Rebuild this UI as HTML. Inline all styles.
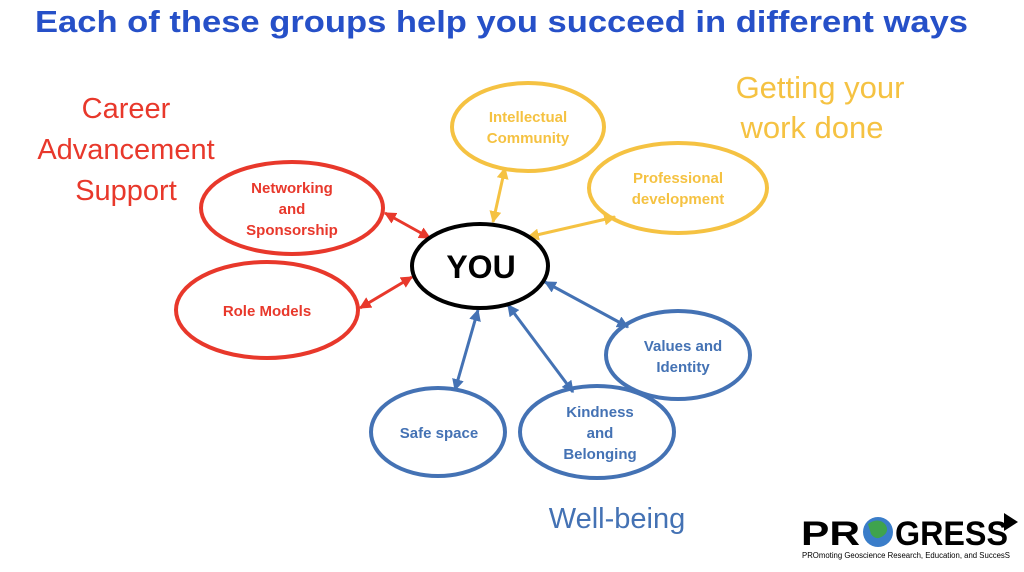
<!DOCTYPE html>
<html><head><style>
body{margin:0;width:1024px;height:567px;background:#fff;overflow:hidden;font-family:"Liberation Sans",sans-serif}
</style></head><body>
<svg width="1024" height="567" xmlns="http://www.w3.org/2000/svg" font-family="Liberation Sans, sans-serif">
<defs>
<marker id="r" viewBox="0 0 10 10" refX="9" refY="5" markerWidth="4" markerHeight="4" orient="auto-start-reverse"><path d="M0,0L10,5L0,10z" fill="#e8382b"/></marker>
<marker id="y" viewBox="0 0 10 10" refX="9" refY="5" markerWidth="4" markerHeight="4" orient="auto-start-reverse"><path d="M0,0L10,5L0,10z" fill="#f5c242"/></marker>
<marker id="b" viewBox="0 0 10 10" refX="9" refY="5" markerWidth="4" markerHeight="4" orient="auto-start-reverse"><path d="M0,0L10,5L0,10z" fill="#4472b4"/></marker>
</defs>
<text x="35" y="32" font-size="31" font-weight="bold" fill="#2650c8" textLength="933" lengthAdjust="spacingAndGlyphs">Each of these groups help you succeed in different ways</text>
<g font-size="29" fill="#e8382b" text-anchor="middle">
<text x="126" y="118">Career</text><text x="126" y="159">Advancement</text><text x="126" y="200">Support</text></g>
<g font-size="31" fill="#f5c242" text-anchor="middle">
<text x="820" y="98">Getting your</text><text x="812" y="138">work done</text></g>
<text x="617" y="528" font-size="29" fill="#4472b4" text-anchor="middle">Well-being</text>
<g fill="none" stroke-width="3">
<line x1="385" y1="213" x2="430" y2="238" stroke="#e8382b" marker-start="url(#r)" marker-end="url(#r)"/>
<line x1="360" y1="308" x2="412" y2="277" stroke="#e8382b" marker-start="url(#r)" marker-end="url(#r)"/>
<line x1="493" y1="222" x2="505" y2="168" stroke="#f5c242" marker-start="url(#y)" marker-end="url(#y)"/>
<line x1="528" y1="237" x2="615" y2="217" stroke="#f5c242" marker-start="url(#y)" marker-end="url(#y)"/>
<line x1="545" y1="282" x2="628" y2="327" stroke="#4472b4" marker-start="url(#b)" marker-end="url(#b)"/>
<line x1="478" y1="310" x2="455" y2="390" stroke="#4472b4" marker-start="url(#b)" marker-end="url(#b)"/>
<line x1="508" y1="305" x2="573" y2="392" stroke="#4472b4" marker-start="url(#b)" marker-end="url(#b)"/>
</g>
<g fill="none" stroke-width="4">
<ellipse cx="480" cy="266" rx="68" ry="42" stroke="#000"/>
<ellipse cx="292" cy="208" rx="91" ry="46" stroke="#e8382b"/>
<ellipse cx="267" cy="310" rx="91" ry="48" stroke="#e8382b"/>
<ellipse cx="528" cy="127" rx="76" ry="44" stroke="#f5c242"/>
<ellipse cx="678" cy="188" rx="89" ry="45" stroke="#f5c242"/>
<ellipse cx="678" cy="355" rx="72" ry="44" stroke="#4472b4"/>
<ellipse cx="597" cy="432" rx="77" ry="46" stroke="#4472b4"/>
<ellipse cx="438" cy="432" rx="67" ry="44" stroke="#4472b4"/>
</g>
<text x="481" y="278" text-anchor="middle" font-size="32" font-weight="bold">YOU</text>
<g font-size="15" font-weight="bold" text-anchor="middle">
<g fill="#e8382b"><text x="292" y="193">Networking</text><text x="292" y="214">and</text><text x="292" y="235">Sponsorship</text><text x="267" y="316">Role Models</text></g>
<g fill="#f5c242"><text x="528" y="122">Intellectual</text><text x="528" y="143">Community</text><text x="678" y="183">Professional</text><text x="678" y="204">development</text></g>
<g fill="#4472b4"><text x="683" y="351">Values and</text><text x="683" y="372">Identity</text><text x="600" y="417">Kindness</text><text x="600" y="438">and</text><text x="600" y="459">Belonging</text><text x="439" y="438">Safe space</text></g>
</g>
<g>
<text x="801" y="545" font-size="34" font-weight="bold" fill="#000" textLength="59" lengthAdjust="spacingAndGlyphs">PR</text>
<circle cx="878" cy="532" r="15" fill="#3a7dc9"/>
<path d="M868,524 q10,-7 17,0 q5,7 -2,12 q-7,5 -12,-2z" fill="#3fa34d"/>
<text x="895" y="545" font-size="34" font-weight="bold" fill="#000" textLength="113" lengthAdjust="spacingAndGlyphs">GRESS</text>
<path d="M1004,513 l14,9 l-14,9z" fill="#000"/>
<text x="802" y="558" font-size="8" fill="#000" textLength="208" lengthAdjust="spacingAndGlyphs">PROmoting Geoscience Research, Education, and SuccesS</text>
</g>
</svg>
</body></html>
